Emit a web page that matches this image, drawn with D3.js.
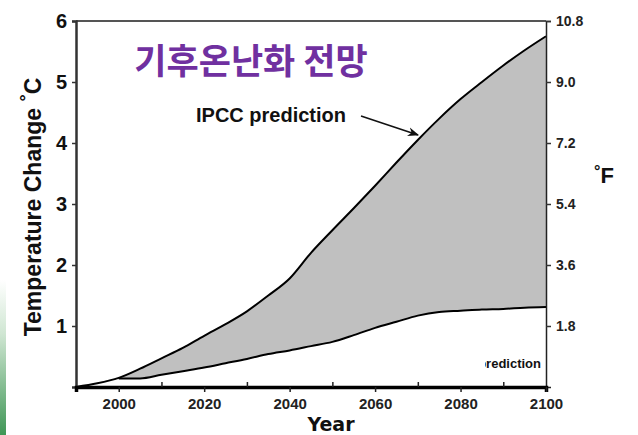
<!DOCTYPE html>
<html><head><meta charset="utf-8">
<script src="https://cdn.jsdelivr.net/npm/d3@7/dist/d3.min.js"></script>
<style>html,body{margin:0;padding:0;background:#fff;}svg{display:block;}</style>
</head><body>
<svg id="c" width="638" height="435"></svg>
<script>
const years = [1990,1995,2000,2005,2010,2015,2020,2025,2030,2035,2040,2045,2050,2055,2060,2065,2070,2075,2080,2085,2090,2095,2100];
const upper = [0,0.06,0.15,0.3,0.47,0.64,0.84,1.03,1.24,1.5,1.78,2.2,2.57,2.93,3.3,3.68,4.05,4.4,4.72,5.0,5.27,5.52,5.75];
const lower = [0,0.07,0.14,0.14,0.2,0.26,0.32,0.39,0.46,0.54,0.6,0.67,0.74,0.85,0.97,1.07,1.17,1.23,1.25,1.27,1.28,1.3,1.31];
const cTicks = [1,2,3,4,5,6];
const fTicks = [1.8,3.6,5.4,7.2,9.0,10.8];
const xMajor = [2000,2020,2040,2060,2080,2100];
const xMinor = [2010,2030,2050,2070,2090];

const svg = d3.select('#c');
const L = 76, R = 546, T = 21, B = 387;
const x = d3.scaleLinear().domain([1990,2100]).range([L,R]);
const y = d3.scaleLinear().domain([0,6]).range([B,T]);
const yF = d3.scaleLinear().domain([0,10.8]).range([B,T]);

// green slide edge
const defs = svg.append('defs');
const g1 = defs.append('linearGradient').attr('id','gr').attr('x1',0).attr('y1',0).attr('x2',0).attr('y2',1);
g1.append('stop').attr('offset','0%').attr('stop-color','#ffffff');
g1.append('stop').attr('offset','35%').attr('stop-color','#cfe6d2');
g1.append('stop').attr('offset','100%').attr('stop-color','#3f9656');
svg.append('rect').attr('x',0).attr('y',280).attr('width',6).attr('height',155).attr('fill','url(#gr)');

const data = years.map((yr,i)=>({yr, u:upper[i], l:lower[i]}));
const area = d3.area().x(d=>x(d.yr)).y0(d=>y(d.l)).y1(d=>y(d.u)).curve(d3.curveMonotoneX);
svg.append('path').datum(data).attr('d',area).attr('fill','#c0c0c0');
const lu = d3.line().x(d=>x(d.yr)).y(d=>y(d.u)).curve(d3.curveMonotoneX);
const ll = d3.line().x(d=>x(d.yr)).y(d=>y(d.l)).curve(d3.curveMonotoneX);
svg.append('path').datum(data).attr('d',lu).attr('fill','none').attr('stroke','#000').attr('stroke-width',2);
svg.append('path').datum(data.filter(d=>d.yr>=2000)).attr('d',ll).attr('fill','none').attr('stroke','#000').attr('stroke-width',2);

// frame
svg.append('line').attr('x1',L).attr('x2',R).attr('y1',T).attr('y2',T).attr('stroke','#555').attr('stroke-width',2);

// left axis
const ax = svg.append('g').attr('transform',`translate(${L},0)`)
  .call(d3.axisLeft(y).tickValues(cTicks).tickSize(4).tickPadding(5).tickFormat(d3.format('d')));
ax.select('.domain').attr('stroke','#333').attr('stroke-width',2.5);
ax.selectAll('.tick line').attr('stroke','#333').attr('stroke-width',1.5);
ax.selectAll('text').attr('font-family','Liberation Sans, Arial, sans-serif').attr('font-weight','bold').attr('font-size',20).attr('fill','#111');

// right axis
const ar = svg.append('g').attr('transform',`translate(${R},0)`)
  .call(d3.axisRight(yF).tickValues(fTicks).tickSize(5).tickPadding(5).tickFormat(d3.format('.1f')));
ar.select('.domain').attr('stroke','#222').attr('stroke-width',1.5);
ar.selectAll('.tick line').attr('stroke','#333').attr('stroke-width',1.5);
ar.selectAll('text').attr('font-family','Liberation Sans, Arial, sans-serif').attr('font-weight','bold').attr('font-size',14).attr('fill','#222');

// bottom axis
const ab = svg.append('g').attr('transform',`translate(0,${B})`)
  .call(d3.axisBottom(x).tickValues(xMajor).tickSize(5).tickPadding(6).tickFormat(d3.format('d')));
ab.select('.domain').attr('stroke','#000').attr('stroke-width',3.5);
ab.selectAll('.tick line').attr('stroke','#222').attr('stroke-width',1.5);
ab.selectAll('text').attr('font-family','Liberation Sans, Arial, sans-serif').attr('font-weight','bold').attr('font-size',15).attr('fill','#222');
svg.append('g').attr('transform',`translate(0,${B})`)
  .call(d3.axisTop(x).tickValues(xMinor).tickSize(5).tickFormat(''))
  .call(g=>{g.select('.domain').remove(); g.selectAll('line').attr('stroke','#222').attr('stroke-width',1.5);});

// axis titles
const yt = svg.append('text').attr('transform','translate(41,207) rotate(-90)').attr('text-anchor','middle')
  .attr('font-family','Liberation Sans, Arial, sans-serif').attr('font-weight','bold').attr('font-size',23).attr('fill','#111');
yt.append('tspan').text('Temperature Change ');
yt.append('tspan').attr('dy',-9).attr('font-size',18).text('°');
yt.append('tspan').attr('dy',9).text('C');

const ft = svg.append('text').attr('x',594).attr('y',183)
  .attr('font-family','Liberation Sans, Arial, sans-serif').attr('font-weight','bold').attr('font-size',22).attr('fill','#111');
ft.append('tspan').attr('dy',-6).attr('font-size',16).text('°');
ft.append('tspan').attr('dy',6).text('F');

svg.append('text').attr('x',331).attr('y',431).attr('text-anchor','middle')
  .attr('font-family','DejaVu Sans, Verdana, sans-serif').attr('font-weight','bold').attr('font-size',19).attr('fill','#111').text('Year');

// title
svg.append('text').attr('x',251).attr('y',74).attr('text-anchor','middle')
  .attr('font-family','Noto Sans CJK KR, sans-serif').attr('font-weight','bold').attr('font-size',35).attr('fill','#7030a0').text('기후온난화 전망');

// annotation
svg.append('text').attr('x',196).attr('y',122)
  .attr('font-family','Liberation Sans, Arial, sans-serif').attr('font-weight','bold').attr('font-size',20).attr('fill','#111').text('IPCC prediction');
defs.append('marker').attr('id','ah').attr('viewBox','0 0 10 10').attr('refX',9).attr('refY',5)
  .attr('markerWidth',7).attr('markerHeight',7).attr('orient','auto-start-reverse')
  .append('path').attr('d','M0,1 L10,5 L0,9 L3,5 Z').attr('fill','#111');
svg.append('line').attr('x1',361).attr('y1',116).attr('x2',418).attr('y2',135)
  .attr('stroke','#111').attr('stroke-width',1.6).attr('marker-end','url(#ah)');

// clipped bottom-right label
defs.append('clipPath').attr('id','cp').append('rect').attr('x',485).attr('y',340).attr('width',70).attr('height',40);
svg.append('text').attr('x',541).attr('y',368).attr('text-anchor','end').attr('clip-path','url(#cp)')
  .attr('font-family','Liberation Sans, Arial, sans-serif').attr('font-weight','bold').attr('font-size',13).attr('fill','#111').text('prediction');
</script>
</body></html>
